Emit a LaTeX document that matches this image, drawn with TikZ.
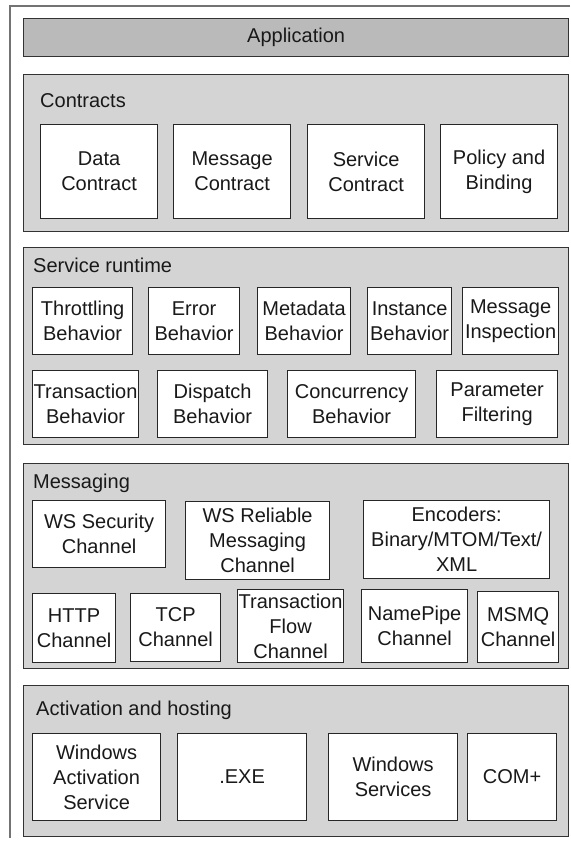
\documentclass[tikz,border=0pt]{standalone}
\usepackage{fontspec}
\setmainfont{Liberation Sans}
\usetikzlibrary{positioning}

\begin{document}
\begin{tikzpicture}[x=1pt,y=-1pt,font=\fontsize{20}{25}\selectfont,text=black!90]
  \tikzstyle{layer}=[rectangle,draw=black!80,fill=black!17,line width=1.2pt,
                     anchor=north west,inner sep=0pt]
  \tikzstyle{part}=[rectangle,draw=black!85,fill=white,line width=1.2pt,
                    anchor=north west,align=center,inner sep=0.5pt]
  \tikzstyle{title}=[anchor=base west,inner sep=0pt]

  \useasboundingbox (0,0) rectangle (570,842);

  % outer frame
  \coordinate (F-tr) at (570,6);
  \coordinate (F-tl) at (10,6);
  \coordinate (F-bl) at (10,838);
  \draw[black!55,line width=2pt] (F-tr) -- (F-tl) -- (F-bl);

  \node[layer,fill=black!27,minimum width=545pt,minimum height=38pt] (app) at (23,18) {};
  \node (app-t) at (app.center) {Application};

  \foreach \name/\y/\h in {con/74/157, run/247/197, msg/463/205, act/685/151}
    \node[layer,minimum width=545pt,minimum height=\h pt] (L-\name) at (23,\y) {};

  \foreach \name/\x/\y/\text in {con/40/108/Contracts, run/33/272/Service runtime,
                                 msg/33/488/Messaging, act/36/715/Activation and hosting}
    \node[title] (T-\name) at (\x,\y) {\text};

  % contracts
  \foreach \name/\x/\text in {data/40/Data\\Contract, mess/173/Message\\Contract,
                              serv/307/Service\\Contract, pol/440/Policy and\\Binding}
    \node[part,minimum width=117pt,minimum height=94pt] (C-\name) at (\x,124) {\text};

  % service runtime
  \foreach \name/\x/\w/\text in {thr/32/100/Throttling\\Behavior, err/148/91/Error\\Behavior,
                                 meta/257/93/Metadata\\Behavior, inst/367/84/Instance\\Behavior,
                                 insp/462/96/Message\\Inspection}
    \node[part,minimum width=\w pt,minimum height=67pt] (R-\name) at (\x,287) {\text};

  \foreach \name/\x/\w/\text in {tra/32/106/Transaction\\Behavior, dis/157/110/Dispatch\\Behavior,
                                 con/287/128/Concurrency\\Behavior, par/436/121/Parameter\\Filtering}
    \node[part,minimum width=\w pt,minimum height=67pt] (R-\name) at (\x,370) {\text};

  % messaging
  \node[part,minimum width=133pt,minimum height=67pt] (M-wss) at (32,500) {WS Security\\Channel};
  \node[part,minimum width=144pt,minimum height=78pt] (M-wsr) at (185,501) {WS Reliable\\Messaging\\Channel};
  \node[part,minimum width=186pt,minimum height=78pt] (M-enc) at (363,500) {Encoders:\\Binary/MTOM/Text/\\XML};

  \foreach \name/\x/\y/\w/\h/\text in {http/32/593/83/69/HTTP\\Channel, tcp/130/593/90/68/TCP\\Channel,
                                       flow/237/589/106/73/Transaction\\Flow\\Channel,
                                       pipe/361/589/106/73/NamePipe\\Channel,
                                       msmq/477/591/81/71/MSMQ\\Channel}
    \node[part,minimum width=\w pt,minimum height=\h pt] (M-\name) at (\x,\y) {\text};

  % activation and hosting
  \foreach \name/\x/\w/\text in {was/32/128/Windows\\Activation\\Service, exe/177/129/.EXE,
                                 win/328/129/Windows\\Services, com/467/89/COM+}
    \node[part,minimum width=\w pt,minimum height=87pt] (A-\name) at (\x,733) {\text};
\end{tikzpicture}
\end{document}
